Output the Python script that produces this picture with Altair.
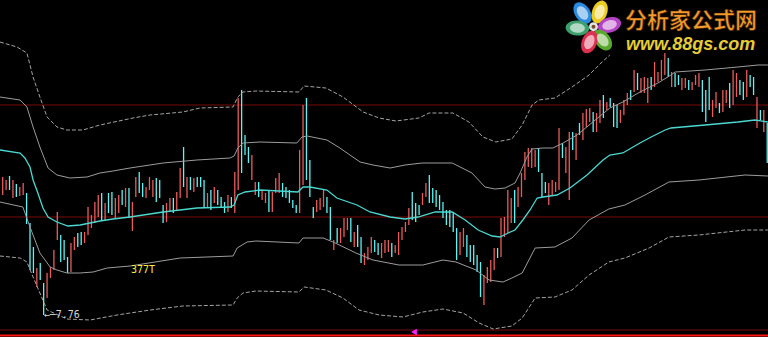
import altair as alt
import pandas as pd

# ---- candle data (price units), one entry per trading bar ----
bar_high = [
    9.14, 9.11, 9.15, 9.11, 9.07, 9.04, 9.08, 8.98, 8.68, 8.44,
    8.23, 8.28, 8.08, 8.18, 8.24, 8.41, 8.79, 8.56, 8.51, 8.34,
    8.48, 8.54, 8.58, 8.59, 8.59, 8.84, 8.76, 8.89, 8.96, 8.98,
    8.88, 8.98, 8.99, 8.93, 8.96, 9.01, 9.03, 9.03, 8.89, 9.14,
    9.19, 9.08, 9.04, 9.14, 9.11, 9.13, 9.11, 8.86, 8.88, 8.93,
    8.93, 8.99, 9.23, 9.44, 9.14, 9.14, 9.13, 9.14, 9.14, 9.11,
    8.98, 9.01, 9.04, 9.01, 8.94, 8.89, 8.96, 8.94, 9.19, 9.93,
    10.01, 9.56, 9.44, 9.36, 9.09, 9.09, 9.01, 8.98, 9.01, 8.99,
    9.13, 9.18, 9.08, 9.04, 9.01, 8.91, 8.86, 9.41, 9.86, 9.93,
    9.31, 8.84, 8.91, 8.93, 9.01, 8.94, 8.84, 8.51, 8.63, 8.63,
    8.73, 8.73, 8.73, 8.59, 8.66, 8.54, 8.38, 8.44, 8.54, 8.51,
    8.48, 8.48, 8.51, 8.51, 8.48, 8.46, 8.59, 8.64, 8.69, 8.83,
    8.99, 8.88, 8.86, 8.98, 9.08, 9.16, 9.03, 9.01, 8.96, 8.89,
    8.81, 8.81, 8.79, 8.63, 8.59, 8.63, 8.56, 8.46, 8.46, 8.36,
    8.29, 8.16, 8.24, 8.31, 8.43, 8.43, 8.73, 8.74, 9.01, 8.93,
    9.01, 9.04, 9.18, 9.39, 9.43, 9.43, 9.41, 9.43, 9.18, 9.09,
    9.08, 9.11, 9.09, 9.63, 9.48, 9.44, 9.59, 9.59, 9.58, 9.68,
    9.78, 9.82, 9.83, 9.79, 9.78, 9.91, 9.96, 9.89, 9.93, 9.88,
    9.86, 9.81, 9.91, 9.98, 10.01, 10.21, 10.18, 10.13, 10.14, 10.13,
    10.14, 10.29, 10.19, 10.31, 10.38, 10.33, 10.19, 10.18, 10.16, 10.13,
    10.13, 10.11, 10.09, 10.16, 10.18, 10.11, 10.01, 10.14, 9.91, 9.99,
    9.88, 10.01, 10.01, 10.08, 10.21, 10.18, 10.11, 10.09, 10.21, 10.16,
    10.14, 9.94, 9.81, 9.81, 9.68,
]
bar_low = [
    8.96, 9.01, 9.01, 8.93, 8.94, 8.95, 8.96, 8.67, 8.21, 8.18,
    8.04, 8.11, 7.76, 7.93, 8.13, 8.21, 8.51, 8.29, 8.31, 8.18,
    8.19, 8.41, 8.44, 8.46, 8.48, 8.56, 8.63, 8.68, 8.74, 8.71,
    8.71, 8.78, 8.76, 8.73, 8.78, 8.86, 8.84, 8.73, 8.60, 8.94,
    8.98, 8.94, 8.93, 9.01, 8.94, 8.89, 8.93, 8.68, 8.69, 8.79,
    8.78, 8.81, 8.93, 9.04, 8.93, 9.01, 8.99, 9.04, 9.04, 8.83,
    8.84, 8.81, 8.88, 8.86, 8.83, 8.78, 8.79, 8.83, 8.78, 9.01,
    9.18, 9.36, 9.28, 9.11, 8.96, 8.94, 8.91, 8.88, 8.79, 8.79,
    8.98, 8.98, 8.94, 8.93, 8.88, 8.83, 8.78, 8.78, 9.06, 9.11,
    8.94, 8.73, 8.79, 8.81, 8.84, 8.78, 8.51, 8.41, 8.48, 8.48,
    8.54, 8.61, 8.49, 8.44, 8.44, 8.28, 8.26, 8.31, 8.38, 8.39,
    8.36, 8.33, 8.38, 8.39, 8.34, 8.38, 8.36, 8.51, 8.59, 8.66,
    8.71, 8.69, 8.76, 8.86, 8.94, 8.88, 8.88, 8.84, 8.81, 8.73,
    8.66, 8.64, 8.59, 8.31, 8.36, 8.44, 8.34, 8.29, 8.26, 8.19,
    7.94, 7.86, 8.08, 8.09, 8.21, 8.33, 8.34, 8.54, 8.58, 8.68,
    8.68, 8.84, 8.94, 9.11, 9.24, 9.23, 9.24, 9.19, 8.94, 8.98,
    8.86, 8.96, 8.99, 9.01, 9.33, 9.18, 8.91, 9.41, 9.31, 9.56,
    9.51, 9.64, 9.69, 9.59, 9.59, 9.68, 9.73, 9.81, 9.84, 9.64,
    9.63, 9.68, 9.76, 9.86, 9.91, 9.99, 10.01, 9.98, 9.98, 9.88,
    10.01, 10.04, 10.09, 10.11, 10.16, 10.14, 10.04, 10.04, 10.06, 10.01,
    10.03, 10.01, 10.01, 10.06, 10.04, 9.79, 9.69, 9.81, 9.74, 9.83,
    9.78, 9.79, 9.88, 9.83, 9.86, 9.94, 9.96, 9.91, 9.94, 10.04,
    9.96, 9.63, 9.71, 9.59, 9.28,
]
# r = rising bar (red), c = falling bar (cyan)
bar_dir = list(
    "rrcrcrrccc" "rccrrrrccc" "rrccrrrrrc" "rccrrcrcrr" "ccrrrcccrr"
    "crrcrcrccc" "rcrcccrcrr" "cccrrcrrcr" "rrcccccrrc" "ccrrrccrcr"
    "rrcrccrrrc" "crrrcrrrrr" "cccrrccccc" "ccccrrcccc" "crrrrcrrrr"
    "crrrrrrccc" "rrrrcrrcrc" "rrrcrrcrcc" "crrrcrcrrr" "crrrrcrccr"
    "rcrrrcccrr" "crrcrrccrc" "crcrc"
)

# ---- indicator lines: (bar index, price) ----
mid_line = [
    (-0.8, 9.41), (5.1, 9.38), (6.5, 9.33), (8.0, 9.24), (8.9, 9.11), (10.3, 8.98),
    (11.8, 8.83), (13.3, 8.74), (15.9, 8.69), (19.1, 8.65), (22.7, 8.66), (25.6, 8.68),
    (28.5, 8.70), (32.3, 8.72), (37.3, 8.74), (47.0, 8.79), (56.9, 8.83), (66.6, 8.84),
    (67.8, 8.86), (68.9, 8.96), (71.0, 8.99), (75.4, 9.01), (86.5, 8.99), (88.0, 9.04),
    (90.0, 9.04), (95.0, 9.01), (97.9, 8.93), (103.8, 8.86), (107.6, 8.79), (113.5, 8.74),
    (117.9, 8.72), (121.7, 8.74), (126.7, 8.79), (131.7, 8.79), (135.5, 8.71), (139.3, 8.61),
    (143.4, 8.55), (145.7, 8.54), (148.1, 8.58), (150.1, 8.61), (152.4, 8.71), (154.5, 8.81),
    (156.6, 8.93), (158.3, 8.94), (162.4, 8.96), (166.2, 9.03), (171.2, 9.16), (175.9, 9.31),
    (177.9, 9.36), (181.7, 9.38), (186.7, 9.48), (190.0, 9.54), (194.1, 9.61), (195.8, 9.63),
    (205.8, 9.66), (215.4, 9.69), (220.4, 9.71), (224.2, 9.69),
]
upper_band = [
    (-0.8, 9.94), (5.1, 9.91), (7.1, 9.84), (8.9, 9.64), (10.9, 9.44), (13.3, 9.23),
    (15.9, 9.16), (19.7, 9.13), (24.7, 9.14), (28.5, 9.18), (32.3, 9.20), (37.3, 9.23),
    (47.0, 9.28), (56.9, 9.31), (66.6, 9.33), (67.8, 9.35), (68.9, 9.43), (70.4, 9.48),
    (75.4, 9.49), (86.2, 9.48), (87.7, 9.54), (89.2, 9.55), (95.0, 9.51), (98.8, 9.43),
    (104.7, 9.29), (108.5, 9.26), (113.5, 9.23), (117.9, 9.26), (122.9, 9.28), (131.7, 9.28),
    (137.5, 9.18), (141.3, 9.04), (144.2, 9.02), (147.2, 9.03), (150.1, 9.08), (151.6, 9.18),
    (153.6, 9.34), (155.1, 9.42), (158.3, 9.43), (161.2, 9.43), (164.2, 9.48), (168.3, 9.56),
    (172.9, 9.69), (177.9, 9.83), (181.7, 9.89), (186.7, 9.99), (192.0, 10.08), (195.8, 10.16),
    (197.0, 10.19), (205.8, 10.21), (215.4, 10.24), (221.3, 10.26), (224.2, 10.26),
]
lower_band = [
    (-0.8, 8.89), (5.9, 8.84), (8.0, 8.64), (10.9, 8.38), (13.9, 8.24), (15.9, 8.21),
    (18.8, 8.18), (22.6, 8.18), (26.5, 8.19), (30.6, 8.23), (37.3, 8.25), (52.0, 8.33),
    (67.5, 8.35), (68.7, 8.43), (71.6, 8.49), (74.2, 8.50), (86.8, 8.48), (88.0, 8.53),
    (93.9, 8.53), (96.8, 8.49), (103.5, 8.38), (108.5, 8.31), (116.1, 8.26), (123.1, 8.26),
    (129.0, 8.31), (132.8, 8.29), (138.7, 8.21), (142.5, 8.11), (146.6, 8.09), (149.2, 8.13),
    (152.2, 8.18), (156.0, 8.43), (161.8, 8.44), (166.8, 8.53), (171.8, 8.71), (177.6, 8.82),
    (182.3, 8.86), (188.2, 8.96), (195.2, 9.09), (204.0, 9.11), (217.5, 9.16), (224.2, 9.15),
]
upper_outer = [
    (-0.8, 10.49), (4.2, 10.44), (7.1, 10.38), (8.9, 10.14), (10.9, 9.94), (13.0, 9.74),
    (15.9, 9.64), (18.8, 9.61), (23.5, 9.61), (28.5, 9.66), (38.2, 9.73), (43.2, 9.76),
    (52.8, 9.79), (57.8, 9.83), (67.5, 9.84), (68.9, 9.94), (70.4, 9.99), (74.2, 10.00),
    (86.8, 9.99), (88.3, 10.05), (94.7, 10.03), (99.7, 9.94), (105.6, 9.79), (110.3, 9.73),
    (115.2, 9.70), (122.0, 9.73), (124.9, 9.78), (131.9, 9.78), (136.6, 9.69), (140.7, 9.54),
    (144.5, 9.49), (149.2, 9.52), (152.2, 9.66), (155.1, 9.86), (157.1, 9.91), (161.8, 9.93),
    (166.8, 10.04), (171.8, 10.16), (175.6, 10.29), (177.9, 10.36),
]
lower_outer = [
    (-0.8, 8.35), (5.1, 8.33), (7.1, 8.29), (8.9, 8.14), (10.9, 7.98), (13.0, 7.81),
    (18.8, 7.72), (25.6, 7.71), (33.5, 7.76), (43.2, 7.81), (52.8, 7.85), (67.5, 7.86),
    (68.7, 7.93), (70.4, 7.98), (74.2, 8.00), (86.8, 7.99), (88.3, 8.04), (94.7, 8.01),
    (99.7, 7.93), (104.4, 7.81), (110.3, 7.76), (117.3, 7.74), (123.1, 7.79), (129.0, 7.82),
    (134.9, 7.78), (139.6, 7.68), (143.7, 7.62), (149.2, 7.65), (152.2, 7.73), (156.0, 7.93),
    (161.8, 7.94), (166.8, 8.01), (171.8, 8.16), (177.6, 8.29), (182.3, 8.33), (189.4, 8.43),
    (195.2, 8.54), (204.0, 8.56), (217.5, 8.61), (224.2, 8.61),
]

level_prices = [9.86, 8.74, 7.61]
base_price = 7.555
low_label = {"i": 12, "p": 7.76, "t": "\u2190\u25007.76"}
vol_label = {"i": 37.6, "p": 8.21, "t": "377T"}
marker = {"i": 120.5, "p": 7.59}

# logo (bar index / price positions)
petal_i = [169.9, 174.9, 177.8, 175.8, 171.9, 168.4]
petal_p = [10.78, 10.79, 10.66, 10.51, 10.49, 10.63]
petal_ang = [236, 290, 344, 52, 112, 184]
petal_col = ["#2a8ae0", "#eccc1e", "#b442c4", "#58a82c", "#dc3050", "#3e9e6c"]
logo_center = (173.1, 10.643)
logo_title = {"i": 182.3, "p": 10.70, "t": "分析家公式网"}
logo_url = {"i": 182.6, "p": 10.465, "t": "www.88gs.com"}

# ---------------------------------------------------------------
RED = "#ea5c5c"
CYAN = "#5ef4f4"
xs = alt.Scale(domain=[-0.79, 224.23], nice=False, zero=False)
ys = alt.Scale(domain=[7.54, 10.91], nice=False, zero=False)


def X(f="i"):
    return alt.X(f, type="quantitative", scale=xs, axis=None)


def Y(f="p"):
    return alt.Y(f, type="quantitative", scale=ys, axis=None)


bars = pd.DataFrame({"i": list(range(len(bar_high))), "high": bar_high,
                     "low": bar_low, "dir": bar_dir})


def line_df(pts, name):
    return pd.DataFrame({"i": [a for a, b in pts], "p": [b for a, b in pts], "s": name})


levels = alt.Chart(pd.DataFrame({"p": level_prices})).mark_rule(
    color="#7c0a0a", strokeWidth=1).encode(y=Y())
base = alt.Chart(pd.DataFrame({"p": [base_price]})).mark_rule(
    color="#ff1414", strokeWidth=2).encode(y=Y())

candles = alt.Chart(bars).mark_rule(strokeWidth=1.3).encode(
    x=X(), y=Y("high"), y2="low",
    color=alt.Color("dir:N", scale=alt.Scale(domain=["r", "c"], range=[RED, CYAN]), legend=None),
)

solid = alt.Chart(pd.concat([line_df(upper_band, "u"), line_df(lower_band, "l")])).mark_line(
    color="#9c9c9c", strokeWidth=1).encode(x=X(), y=Y(), detail="s:N")
dashed = alt.Chart(pd.concat([line_df(upper_outer, "u"), line_df(lower_outer, "l")])).mark_line(
    color="#a4a4a4", strokeWidth=1, strokeDash=[4, 2]).encode(x=X(), y=Y(), detail="s:N")
mid = alt.Chart(line_df(mid_line, "m")).mark_line(
    color="#4cd8d0", strokeWidth=1.3).encode(x=X(), y=Y())

low_txt = alt.Chart(pd.DataFrame([low_label])).mark_text(
    align="left", baseline="middle", font="DejaVu Sans Mono", fontSize=10, color="#d8d8d8"
).encode(x=X(), y=Y(), text="t:N")
vol_txt = alt.Chart(pd.DataFrame([vol_label])).mark_text(
    align="left", baseline="middle", font="DejaVu Sans Mono", fontSize=10, color="#f4f040"
).encode(x=X(), y=Y(), text="t:N")
tri = alt.Chart(pd.DataFrame([marker])).mark_point(
    shape="triangle-left", filled=True, size=45, color="#ff22ff", opacity=1
).encode(x=X(), y=Y())

PETAL = "M -1 0 A 1 0.64 0 1 1 1 0 A 1 0.64 0 1 1 -1 0 Z"
petals_df = pd.DataFrame({"i": petal_i, "p": petal_p, "a": petal_ang, "c": petal_col})
petals = alt.Chart(petals_df).mark_point(shape=PETAL, filled=True, opacity=1, size=560).encode(
    x=X(), y=Y(), angle=alt.Angle("a:Q", scale=None), color=alt.Color("c:N", scale=None))
gloss = alt.Chart(petals_df).mark_point(shape=PETAL, filled=True, opacity=0.6, size=220,
                                        color="white").encode(
    x=X(), y=Y(), angle=alt.Angle("a:Q", scale=None))
center_df = pd.DataFrame({"i": [logo_center[0]], "p": [logo_center[1]]})
center = alt.Chart(center_df).mark_point(shape="circle", filled=True, opacity=1, size=80,
                                         color="#e4e4e4").encode(x=X(), y=Y())
center_dot = alt.Chart(center_df).mark_point(shape="circle", filled=True, opacity=1, size=16,
                                             color="#7a4a2a").encode(x=X(), y=Y())
title_txt = alt.Chart(pd.DataFrame([logo_title])).mark_text(
    align="left", baseline="middle", font="Noto Sans CJK SC", fontWeight="bold",
    fontSize=22, color="#f29a2c", stroke="#3a1a00", strokeWidth=0.6
).encode(x=X(), y=Y(), text="t:N")
url_txt = alt.Chart(pd.DataFrame([logo_url])).mark_text(
    align="left", baseline="middle", font="Liberation Sans", fontWeight="bold",
    fontStyle="italic", fontSize=18, color="#e6cc38"
).encode(x=X(), y=Y(), text="t:N")

chart = alt.layer(
    levels, base, candles, solid, dashed, mid, low_txt, vol_txt, tri,
    petals, gloss, center, center_dot, title_txt, url_txt,
).properties(
    width=768, height=337, background="black", padding=0,
    autosize=alt.AutoSizeParams(type="none"),
).configure_view(stroke=None)

chart.save("out.html", embed_options={"renderer": "svg", "actions": False})
